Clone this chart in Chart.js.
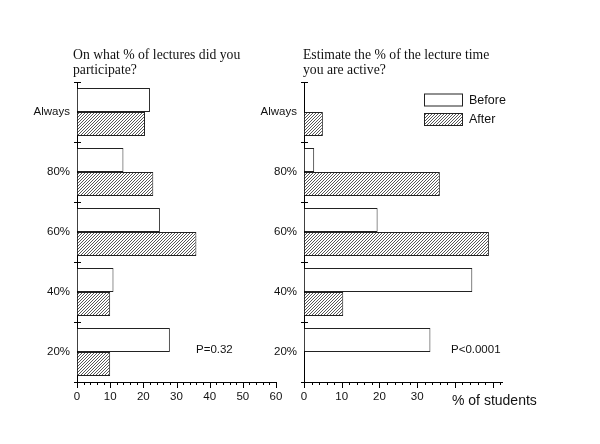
<!DOCTYPE html>
<html>
<head>
<meta charset="utf-8">
<script src="https://cdn.jsdelivr.net/npm/chart.js@4/dist/chart.umd.min.js"></script>
<style>
  body { margin: 0; background: #fff; }
  #wrap { position: relative; width: 600px; height: 444px; overflow: hidden; }
  canvas { position: absolute; left: 0; top: 0; }
  .title { position: absolute; font: 13.7px/15px "Liberation Serif", serif; color: #111; white-space: nowrap; }
  .note { position: absolute; font: 11.5px/12px "Liberation Sans", sans-serif; color: #111; white-space: nowrap; }
  .unit { position: absolute; font: 14px/16px "Liberation Sans", sans-serif; color: #111; background: #fff; padding: 0 4px 0 0; white-space: nowrap; }
</style>
</head>
<body>
<div id="wrap">
  <canvas id="leftChart" width="600" height="444"></canvas>
  <canvas id="rightChart" width="600" height="444"></canvas>
  <div class="title" style="left:73px; top:47.2px">On what % of lectures did you<br>participate?</div>
  <div class="title" style="left:303px; top:47.2px">Estimate the % of the lecture time<br>you are active?</div>
  <div class="note" style="left:196px; top:343px">P=0.32</div>
  <div class="note" style="left:451px; top:343px">P&lt;0.0001</div>
  <div class="unit" style="left:452px; top:392px">% of students</div>
</div>
<script>
const categories = ["Always", "80%", "60%", "40%", "20%"];

// "On what % of lectures did you participate?"
const participateBefore = [22, 14, 25, 11, 28];
const participateAfter = [20.5, 23, 36, 10, 10];
const participateTicks = [0, 10, 20, 30, 40, 50, 60];

// "Estimate the % of the lecture time you are active?"
const activeBefore = [null, 2.7, 19.5, 44.6, 33.5];
const activeAfter = [5, 36, 49, 10.4, null];
const activeTicks = [0, 10, 20, 30];

const sans = "'Liberation Sans', Arial, sans-serif";

// diagonal hatch for the "After" bars
function makeHatch() {
  const c = document.createElement("canvas");
  c.width = 3;
  c.height = 3;
  const g = c.getContext("2d");
  g.fillStyle = "#fff";
  g.fillRect(0, 0, 3, 3);
  g.strokeStyle = "#444";
  g.lineWidth = 0.9;
  g.beginPath();
  g.moveTo(0, 3); g.lineTo(3, 0);
  g.moveTo(-1, 1); g.lineTo(1, -1);
  g.moveTo(2, 4); g.lineTo(4, 2);
  g.stroke();
  return g.createPattern(c, "repeat");
}
const hatch = makeHatch();

// small tick marks: category boundaries on y, minor/major on x
const tickMarks = {
  id: "tickMarks",
  afterDraw(chart) {
    const ctx = chart.ctx;
    const x = chart.scales.x;
    const y = chart.scales.y;
    ctx.save();
    ctx.strokeStyle = "#000";
    ctx.lineWidth = 1;
    ctx.beginPath();
    for (let i = 0; i <= categories.length; i++) {
      const py = Math.round(y.getPixelForValue(i - 0.5)) + 0.5;
      ctx.moveTo(x.left - 3, py);
      ctx.lineTo(x.left + 4, py);
    }
    for (let v = 0; v <= x.max; v += 2) {
      const px = Math.round(x.getPixelForValue(v)) + 0.5;
      const len = v % 10 === 0 ? 6 : 3;
      ctx.moveTo(px, y.bottom);
      ctx.lineTo(px, y.bottom + len);
    }
    ctx.stroke();
    ctx.restore();
  }
};

// legend boxes in the right panel
const boxLegend = {
  id: "boxLegend",
  afterDraw(chart) {
    const ctx = chart.ctx;
    ctx.save();
    ctx.font = "12.5px " + sans;
    ctx.textBaseline = "middle";
    chart.data.datasets.forEach((ds, i) => {
      const top = 93.5 + i * 19.5;
      ctx.fillStyle = ds.backgroundColor;
      ctx.fillRect(424, top, 39, 13);
      ctx.strokeStyle = "#222";
      ctx.strokeRect(424.5, top + 0.5, 38, 12);
      ctx.fillStyle = "#111";
      ctx.fillText(ds.label, 469, top + 7);
    });
    ctx.restore();
  }
};

function makeChart(id, before, after, max, shownTicks, pad, plugins) {
  return new Chart(document.getElementById(id), {
    type: "bar",
    data: {
      labels: categories,
      datasets: [
        {
          label: "Before",
          data: before,
          backgroundColor: "#fff",
          borderColor: "#222",
          borderWidth: 1,
          categoryPercentage: 0.8,
          barPercentage: 1.0,
        },
        {
          label: "After",
          data: after,
          backgroundColor: hatch,
          borderColor: "#222",
          borderWidth: 1,
          categoryPercentage: 0.8,
          barPercentage: 1.0,
        },
      ],
    },
    options: {
      indexAxis: "y",
      responsive: false,
      animation: false,
      layout: { padding: pad },
      plugins: {
        legend: { display: false },
        tooltip: { enabled: false },
      },
      scales: {
        x: {
          min: 0,
          max: max,
          grid: { display: true, drawOnChartArea: false, drawTicks: false },
          border: { display: true, color: "#000", width: 1 },
          ticks: {
            stepSize: 2,
            autoSkip: false,
            maxRotation: 0,
            padding: 8,
            color: "#111",
            font: { family: sans, size: 11.5 },
            callback: (v) => (shownTicks.includes(v) ? String(v) : ""),
          },
          afterFit: (scale) => { scale.height = 62; },
        },
        y: {
          grid: { display: true, drawOnChartArea: false, drawTicks: false },
          border: { display: true, color: "#000", width: 1 },
          ticks: {
            padding: 7,
            color: "#111",
            font: { family: sans, size: 11.5 },
          },
          afterFit: (scale) => { scale.width = pad.yWidth; },
        },
      },
    },
    plugins: plugins,
  });
}

makeChart("leftChart", participateBefore, participateAfter, 60, participateTicks,
  { left: 0, top: 82, right: 324, bottom: 0, yWidth: 77 }, [tickMarks]);

makeChart("rightChart", activeBefore, activeAfter, 52.6, activeTicks,
  { left: 244, top: 82, right: 97.5, bottom: 0, yWidth: 60 }, [tickMarks, boxLegend]);
</script>
</body>
</html>
